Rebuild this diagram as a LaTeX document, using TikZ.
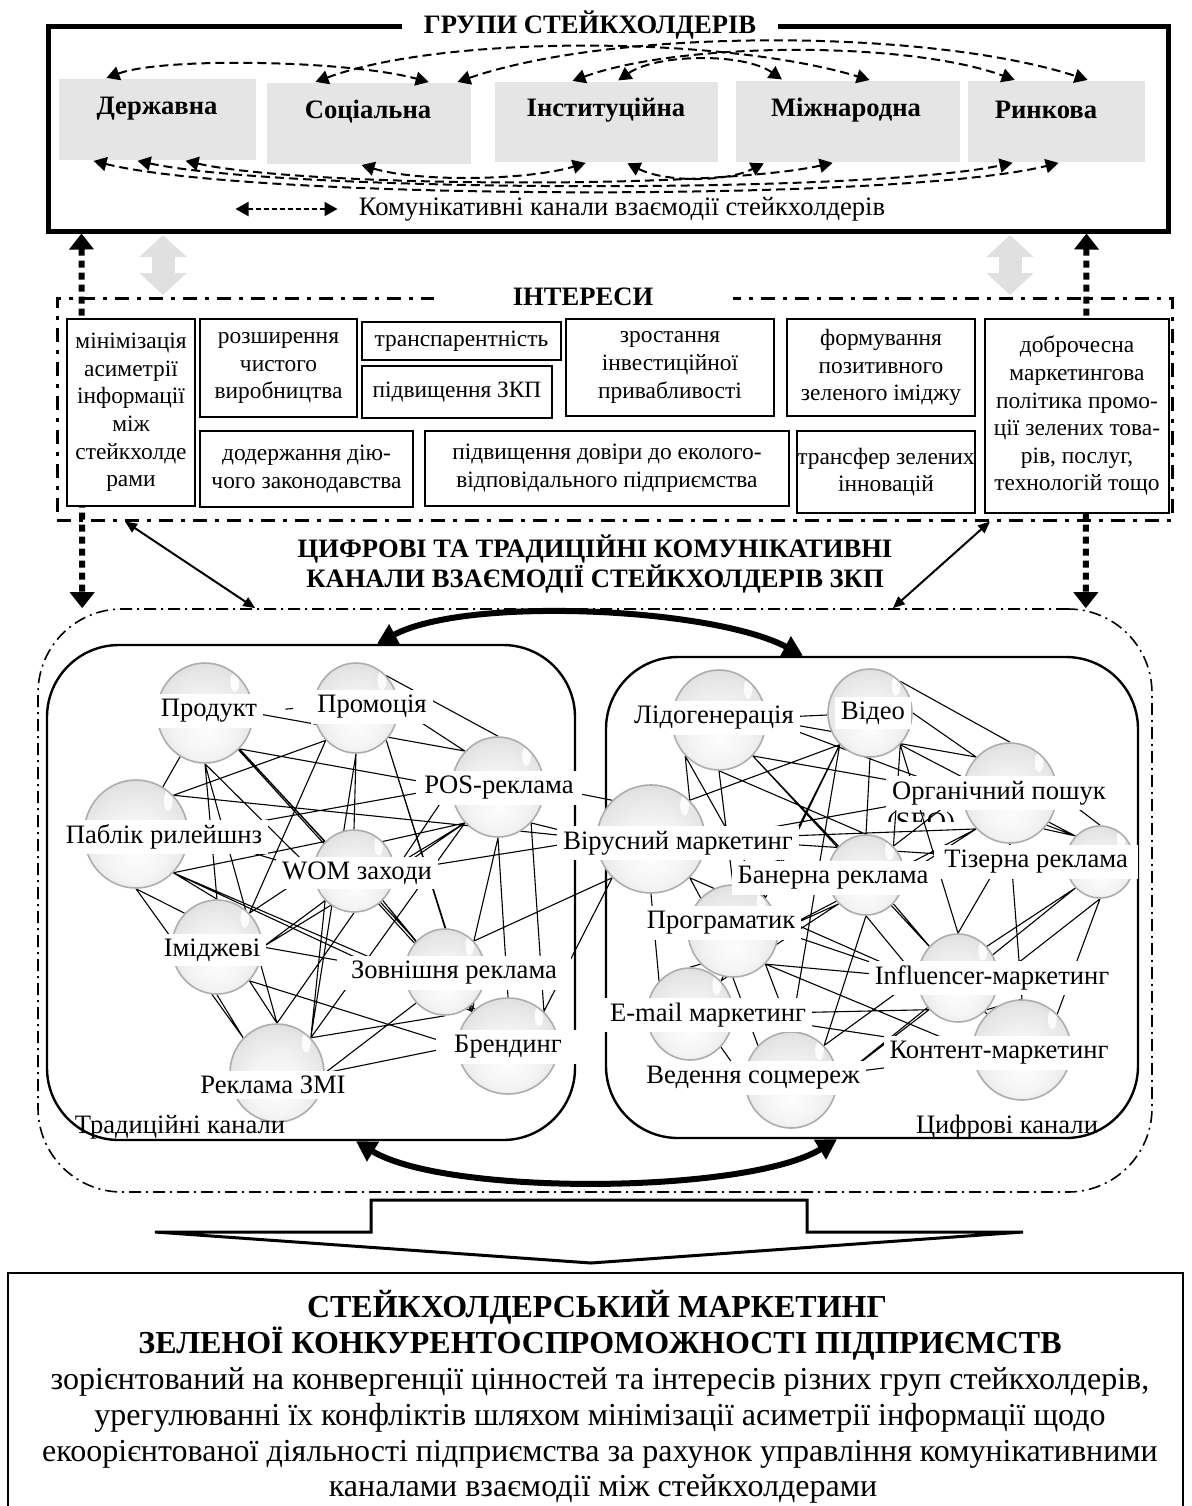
\documentclass[tikz,border=0pt]{standalone}
\usepackage{fontspec}
\setmainfont{Liberation Serif}
\usetikzlibrary{arrows.meta,shapes.geometric,calc}
\pgfdeclarelayer{wires}
\pgfsetlayers{wires,main}
% glassy sphere shading: light glow below the centre, grey rim
\pgfdeclareradialshading{glass}{\pgfqpoint{0bp}{-10bp}}{%
  color(0bp)=(black!1); color(14bp)=(black!4); color(26bp)=(black!10);
  color(36bp)=(black!17); color(50bp)=(black!27)}

\begin{document}
\begin{tikzpicture}[x=0.5pt,y=-0.5pt,
  txt/.style={font=\fontsize{13.3}{15}\selectfont, inner sep=1pt},
  btxt/.style={font=\fontsize{13.3}{15}\selectfont\bfseries, inner sep=1pt},
  gbox/.style={fill=black!10, inner sep=0pt},
  ibox/.style={draw, line width=0.7pt, fill=white, inner sep=0pt, align=center,
    font=\fontsize{11.7}{13.8}\selectfont},
  frame/.style={draw, line width=2.5pt, inner sep=0pt},
  arc/.style={line width=1pt, dash pattern=on 4.5pt off 2.5pt,
    shorten <=1pt, shorten >=1pt,
    {Triangle[length=6.5pt,width=7pt]}-{Triangle[length=6.5pt,width=7pt]}},
  dotarr/.style={line width=3pt, dash pattern=on 3.5pt off 2.5pt,
    {Triangle[length=8pt,width=12pt]}-{Triangle[length=8pt,width=12pt]}},
  grayarr/.style={draw=black!12, line width=11.5pt,
    {Triangle[length=11pt,width=23pt]}-{Triangle[length=11pt,width=23pt]}},
  thinarr/.style={line width=1pt,
    {Triangle[length=6pt,width=5pt]}-{Triangle[length=6pt,width=5pt]}},
  bigarr/.style={line width=3pt,
    {Triangle[length=10pt,width=11pt]}-{Triangle[length=10pt,width=11pt]}},
  chan/.style={draw, line width=1.2pt, rounded corners=36pt, inner sep=0pt},
  sph/.style 2 args={ellipse, draw=black!32, line width=0.8pt, shading=glass,
    inner sep=0pt, minimum width=#1, minimum height=#2,
    path picture={\fill[white,opacity=.9]
      ($(path picture bounding box.center)!.62!(path picture bounding box.north east)$)
      ellipse [x radius=2.2pt, y radius=5pt];}},
  lab/.style={fill=white, inner xsep=3pt, inner ysep=2.5pt,
    font=\fontsize{13.3}{15}\selectfont},
  res/.style={font=\fontsize{16}{18}\selectfont, inner sep=1pt},
  wire/.style={line width=0.55pt}
]
\useasboundingbox (0,0) rectangle (1191,1506);

% ---------- stakeholder groups ----------
\node[frame, minimum width=560pt, minimum height=102.5pt] (grp) at (608,128.5) {};
\node[btxt, fill=white, minimum width=188pt, minimum height=13pt] (grpT) at (590,25) {ГРУПИ СТЕЙКХОЛДЕРІВ};

\node[gbox, minimum width=98.5pt, minimum height=40.5pt] (gD) at (157.5,119.5) {};
\node[gbox, minimum width=102pt, minimum height=40.5pt] (gS) at (369,123.5) {};
\node[gbox, minimum width=111.5pt, minimum height=40pt] (gI) at (606.5,122) {};
\node[gbox, minimum width=112pt, minimum height=40.5pt] (gM) at (848,121.5) {};
\node[gbox, minimum width=88.5pt, minimum height=40.5pt] (gR) at (1056.5,121.5) {};
\node[btxt] (tD) at (157,109) {Державна};
\node[btxt] (tS) at (368,112) {Соціальна};
\node[btxt] (tI) at (606,110) {Інституційна};
\node[btxt] (tM) at (846,110) {Міжнародна};
\node[btxt] (tR) at (1046,110) {Ринкова};

% channels between groups, above the boxes
\draw[arc] ([xshift=23pt]gD.north west) .. controls +(60,-22) and +(-80,-22) .. ([xshift=82pt]gS.north west);
\draw[arc] ([xshift=23.5pt]gS.north west) .. controls +(130,-48) and +(-150,-45) .. ([xshift=68pt]gM.north west);
\draw[arc] ([xshift=94.5pt]gS.north west) .. controls +(160,-55) and +(-160,-52) .. ([xshift=61pt]gR.north west);
\draw[arc] ([xshift=61pt]gI.north west) .. controls +(40,-28) and +(-40,-28) .. ([xshift=24pt]gM.north west);
\draw[arc] ([xshift=38pt]gI.north west) .. controls +(110,-40) and +(-110,-40) .. ([xshift=24.5pt]gR.north west);
% channels between groups, below the boxes
\draw[arc] ([xshift=16.5pt]gD.south west) .. controls +(160,40) and +(-160,40) .. ([xshift=46.5pt]gR.south west);
\draw[arc] ([xshift=38.5pt]gD.south west) .. controls +(150,32) and +(-150,32) .. ([xshift=23.5pt]gR.south west);
\draw[arc] ([xshift=62.5pt]gD.south west) .. controls +(120,27) and +(-120,27) .. ([xshift=49.5pt]gM.south west);
\draw[arc] ([xshift=46.5pt]gS.south west) .. controls +(60,18) and +(-60,18) .. ([xshift=46.5pt]gI.south west);
\draw[arc] ([xshift=65.5pt]gI.south west) .. controls +(40,20) and +(-40,20) .. ([xshift=15pt]gM.south west);

\node[txt] (legT) at (622,209) {Комунікативні канали взаємодії стейкхолдерів};
\draw[line width=1pt, dash pattern=on 2.5pt off 1.5pt,
  {Triangle[length=6.5pt,width=7pt]}-{Triangle[length=6.5pt,width=7pt]}]
  ([xshift=-60.5pt]legT.west) -- ([xshift=-9.5pt]legT.west);

% ---------- interests ----------
\node[draw, line width=1.5pt, dash pattern=on 7pt off 4pt on 2pt off 4pt,
  minimum width=557.5pt, minimum height=111pt, inner sep=0pt] (intr) at (614.5,409) {};
\node[btxt, fill=white, minimum width=149.5pt, minimum height=12pt] (intrT) at (583,297) {ІНТЕРЕСИ};

% ---------- communication channels ----------
\node[draw, line width=0.8pt, dash pattern=on 6pt off 2.5pt on 1pt off 2.5pt,
  rounded corners=42pt, minimum width=557pt, minimum height=291.5pt, inner sep=0pt] (net) at (595,900.5) {};
\node[chan, minimum width=264pt, minimum height=247.5pt] (trad) at (311,892.5) {};
\node[chan, minimum width=266pt, minimum height=240.5pt] (dig) at (872,897.5) {};

% links between levels
\draw[dotarr] ([xshift=18pt]grp.south west) -- ([xshift=22.5pt]net.north west);
\draw[dotarr] ([xshift=-42pt]grp.south east) -- ([xshift=-33.5pt]net.north east);
\draw[grayarr, shorten <=0.75pt, shorten >=0.75pt] ([xshift=-222.5pt]grp.south) -- ([xshift=-225.75pt]intr.north);
\draw[grayarr, shorten <=0.75pt, shorten >=0.75pt] ([xshift=201pt]grp.south) -- ([xshift=197.75pt]intr.north);
\draw[thinarr] ([xshift=34.75pt]intr.south west) -- ([xshift=109pt]net.north west);
\draw[thinarr] ([xshift=-91.75pt]intr.south east) -- ([xshift=-130pt]net.north east);

% interest boxes
\node[ibox, minimum width=64pt, minimum height=93.5pt] (b1) at (131,412.5)
  {мінімізація\\асиметрії\\інформації\\між\\стейкхолде\\рами};
\node[ibox, minimum width=78.5pt, minimum height=49pt] (b2) at (278.5,368)
  {розширення\\чистого\\виробництва};
\node[ibox, minimum width=99.5pt, minimum height=19pt] (b3) at (461.5,341) {транспарентність};
\node[ibox, minimum width=95pt, minimum height=26pt] (b4) at (457,392) {підвищення ЗКП};
\node[ibox, minimum width=104pt, minimum height=48.5pt] (b5) at (670,367.5)
  {зростання\\інвестиційної\\привабливості};
\node[ibox, minimum width=94pt, minimum height=48.5pt] (b6) at (881,367.5)
  {формування\\позитивного\\зеленого іміджу};
\node[ibox, minimum width=92pt, minimum height=97pt] (b7) at (1077,416)
  {доброчесна\\маркетингова\\політика промо-\\ції зелених това-\\рів, послуг,\\технологій тощо};
\node[ibox, minimum width=106.5pt, minimum height=38pt] (b8) at (306.5,469)
  {додержання дію-\\чого законодавства};
\node[ibox, minimum width=182pt, minimum height=37.5pt] (b9) at (607,468.5)
  {підвищення довіри до еколого-\\відповідального підприємства};
\node[ibox, minimum width=89pt, minimum height=41pt] (b10) at (886,472)
  {трансфер зелених\\інновацій};

\node[btxt, align=center, font=\fontsize{13.3}{15}\selectfont\bfseries] (hd) at (595,564)
  {ЦИФРОВІ ТА ТРАДИЦІЙНІ КОМУНІКАТИВНІ\\КАНАЛИ ВЗАЄМОДІЇ СТЕЙКХОЛДЕРІВ ЗКП};

\draw[bigarr] ([xshift=33pt]trad.north) .. controls +(90,-48) and +(-90,-48) .. ([xshift=-34.5pt]dig.north);
\draw[bigarr] ([xshift=22.5pt]trad.south) .. controls +(90,55) and +(-90,55) .. ([xshift=-17.5pt]dig.south);

% ---------- spheres: traditional channels ----------
\node[sph={48pt}{50pt}] (sPr) at (205,713) {};
\node[sph={42pt}{45pt}] (sPm) at (356,708) {};
\node[sph={46pt}{50pt}] (sPOS) at (498,787) {};
\node[sph={52pt}{54pt}] (sPR) at (136,834) {};
\node[sph={40pt}{41pt}] (sWOM) at (354,871) {};
\node[sph={45pt}{47pt}] (sIm) at (217,947) {};
\node[sph={40pt}{43pt}] (sZv) at (445,972) {};
\node[sph={50pt}{48pt}] (sBr) at (508,1046) {};
\node[sph={47pt}{49pt}] (sZMI) at (277,1073) {};
% ---------- spheres: digital channels ----------
\node[sph={47pt}{50pt}] (sLi) at (719,720) {};
\node[sph={42pt}{44pt}] (sVi) at (870,713) {};
\node[sph={47pt}{50pt}] (sSEO) at (1010,793) {};
\node[sph={54pt}{54pt}] (sVir) at (651,839) {};
\node[sph={38pt}{40pt}] (sBan) at (866,875) {};
\node[sph={34pt}{36pt}] (sTiz) at (1100,862) {};
\node[sph={45pt}{46pt}] (sPrg) at (733,931) {};
\node[sph={40pt}{44pt}] (sInf) at (958,978) {};
\node[sph={43pt}{46pt}] (sEm) at (690,1014) {};
\node[sph={49pt}{50pt}] (sKon) at (1022,1050) {};
\node[sph={46pt}{48pt}] (sVed) at (791,1080) {};

% ---------- links between channels ----------
\begin{pgfonlayer}{wires}
\draw[wire]
 (sPr) -- (sPR)
 (sPr.east) -- (sPOS.north west)
 (sPr.south east) -- (sPOS.west)
 (sPr.south east) -- (sWOM.north west)
 (sPr.south) -- (sWOM.west)
 (sPr.south) -- (sIm.north)
 (sPr.south) -- (sZMI.north)
 (sPr.south east) -- (sZv.north west)
 (sPr) -- (sBr)
 (sPm.south west) -- (sPR.north east)
 (sPm.east) -- (sPOS.north west)
 (sPm.north east) -- (sPOS.north)
 (sPm.south) -- (sWOM.north)
 (sPm.south west) -- (sIm.north east)
 (sPm.south) -- (sZMI.north east)
 (sPm.south east) -- (sZv.north)
 (sPm.south east) -- (sBr.north west)
 (sPR.east) -- (sPOS.west)
 (sPR.east) -- (sWOM.west)
 (sPR.south east) -- (sWOM.north west)
 (sPR.north east) -- (sVir.west)
 (sPR.south) -- (sIm.north west)
 (sPR.south east) -- (sIm.north)
 (sPR.south east) -- (sZv.west)
 (sPR.south east) -- (sBr.north west)
 (sPR.south) -- (sZMI.north west)
 (sPOS.south west) -- (sWOM.north east)
 (sPOS.west) -- (sWOM.east)
 (sPOS.south west) -- (sWOM.east)
 (sPOS.south west) -- (sIm.east)
 (sPOS.south) -- (sZv.north east)
 (sPOS.south) -- (sBr.north)
 (sPOS.south east) -- (sBr.north east)
 (sPOS.south west) -- (sZMI.north east)
 (sPOS.east) -- (sVir.north west)
 (sPOS.south east) -- (sVir.west)
 (sWOM.west) -- (sIm.north east)
 (sWOM.south west) -- (sIm.east)
 (sWOM.south east) -- (sZv.north west)
 (sWOM.south east) -- (sBr.north west)
 (sWOM.south) -- (sZMI.north)
 (sWOM.south west) -- (sZMI.north east)
 (sWOM.east) -- (sVir.west)
 (sIm.south) -- (sZMI.north west)
 (sIm.south east) -- (sZMI.north)
 (sIm.east) -- (sZv.west)
 (sIm.south east) -- (sBr.west)
 (sZv.south west) -- (sZMI.east)
 (sZv.south) -- (sZMI.north east)
 (sZv.south east) -- (sBr.north west)
 (sZv.north east) -- (sVir.south west)
 (sBr.west) -- (sZMI.east)
 (sBr.north east) -- (sVir.south west)
 (sLi) -- (sVi)
 (sLi.south west) -- (sVir.north east)
 (sLi.east) -- (sSEO.north west)
 (sLi.south east) -- (sSEO.west)
 (sLi.south east) -- (sBan.north west)
 (sLi.south) -- (sBan.north)
 (sLi.south) -- (sPrg.north)
 (sLi.south west) -- (sPrg.north east)
 (sLi.south east) -- (sInf.north west)
 (sLi.east) -- (sTiz.north west)
 (sVi.south west) -- (sVir.north east)
 (sVi.east) -- (sSEO.north west)
 (sVi.north east) -- (sSEO.north)
 (sVi.south) -- (sBan.north)
 (sVi.south east) -- (sBan.north east)
 (sVi.south west) -- (sPrg.north east)
 (sVi.south east) -- (sInf.north)
 (sVi.south east) -- (sTiz.north west)
 (sVi.south west) -- (sVed.north)
 (sVi.south west) -- (sEm.north east)
 (sSEO.west) -- (sVir.east)
 (sSEO.south west) -- (sVir.east)
 (sSEO.south west) -- (sBan.east)
 (sSEO.west) -- (sBan.north east)
 (sSEO.south east) -- (sTiz.north west)
 (sSEO.east) -- (sTiz.north)
 (sSEO.south) -- (sInf.north)
 (sSEO.south) -- (sKon.north)
 (sSEO.south west) -- (sPrg.east)
 (sVir.east) -- (sTiz.west)
 (sVir.east) -- (sBan.west)
 (sVir.south east) -- (sPrg.north west)
 (sVir.south) -- (sEm.north west)
 (sVir.south east) -- (sInf.west)
 (sBan.east) -- (sTiz.west)
 (sBan.south east) -- (sInf.north west)
 (sBan.south) -- (sInf.west)
 (sBan.south east) -- (sKon.north west)
 (sBan.south) -- (sVed.north east)
 (sBan.south west) -- (sPrg.east)
 (sBan.south west) -- (sEm.north east)
 (sTiz.south west) -- (sInf.north east)
 (sTiz.south) -- (sInf.east)
 (sTiz.south) -- (sKon.north east)
 (sTiz.south west) -- (sVed.east)
 (sPrg.east) -- (sInf.west)
 (sPrg.south east) -- (sInf.west)
 (sPrg.south east) -- (sKon.west)
 (sPrg.south west) -- (sEm.north)
 (sPrg.south) -- (sVed.north west)
 (sPrg.south east) -- (sVed.north)
 (sInf.south east) -- (sKon.north)
 (sInf.south west) -- (sVed.east)
 (sInf.west) -- (sVed.north east)
 (sEm.east) -- (sKon.west)
 (sEm.south east) -- (sVed.west)
 (sEm.east) -- (sInf.south west)
 (sVed) -- (sKon);
\end{pgfonlayer}

% ---------- channel labels ----------
\node[lab] (lPr) at (209,711) {Продукт};
\node[lab] (lPm) at (372,707) {Промоція};
\draw[wire, shorten <=11pt, shorten >=9pt] (lPr.east) -- (lPm.west);
\node[lab, inner xsep=4pt] (lPOS) at (499,788) {POS-реклама};
\node[lab] (lPR) at (164,837) {Паблік рилейшнз};
\node[lab] (lWOM) at (357,873) {WOM заходи};
\node[lab] (lIm) at (212,950) {Іміджеві};
\node[lab, inner xsep=7pt] (lZv) at (454,973) {Зовнішня реклама};
\node[lab, inner xsep=9pt] (lBr) at (508,1047) {Брендинг};
\node[lab] (lZMI) at (273,1085) {Реклама ЗМІ};

\node[lab] (lLi) at (714,718) {Лідогенерація};
\node[lab] (lVi) at (873,713) {Відео};
\begin{scope}
  \clip (885,806) rectangle (965,821);
  \node[txt] (lSEO2) at (921,824) {(SEO)};
\end{scope}
\node[lab] (lSEO) at (999,793) {Органічний пошук};
\node[lab] (lVir) at (678,843) {Вірусний маркетинг};
\node[lab] (lBan) at (833,878) {Банерна реклама};
\node[lab, inner xsep=5pt] (lTiz) at (1036,862) {Тізерна реклама};
\node[lab] (lPrg) at (721,923) {Програматик};
\node[lab] (lInf) at (992,978) {Influencer-маркетинг};
\node[lab] (lEm) at (708,1015) {E-mail маркетинг};
\node[lab] (lKon) at (999,1053) {Контент-маркетинг};
\node[lab] (lVed) at (753,1078) {Ведення соцмереж};

\node[txt] (capT) at (180,1127) {Традиційні канали};
\node[txt] (capD) at (1007,1127) {Цифрові канали};

% ---------- result ----------
\draw[line width=1.5pt, line join=miter] (371,1200) -- (807,1200) -- (807,1232) -- (1023,1232)
  -- (591,1263) -- (155,1232) -- (371,1232) -- cycle;
\draw[line width=1.2pt] (8,1515) |- (1183,1273) -- (1183,1515);

\node[res, font=\fontsize{16}{18}\selectfont\bfseries] (r1) at (597,1307) {СТЕЙКХОЛДЕРСЬКИЙ МАРКЕТИНГ};
\node[res, font=\fontsize{16}{18}\selectfont\bfseries] (r2) at (600,1344) {ЗЕЛЕНОЇ КОНКУРЕНТОСПРОМОЖНОСТІ ПІДПРИЄМСТВ};
\node[res] (r3) at (600,1382) {зорієнтований на конвергенції цінностей та інтересів різних груп стейкхолдерів,};
\node[res] (r4) at (600,1418) {урегулюванні їх конфліктів шляхом мінімізації асиметрії інформації щодо};
\node[res] (r5) at (600,1454) {екоорієнтованої діяльності підприємства за рахунок управління комунікативними};
\node[res] (r6) at (603,1489) {каналами взаємодії між стейкхолдерами};
\end{tikzpicture}
\end{document}
